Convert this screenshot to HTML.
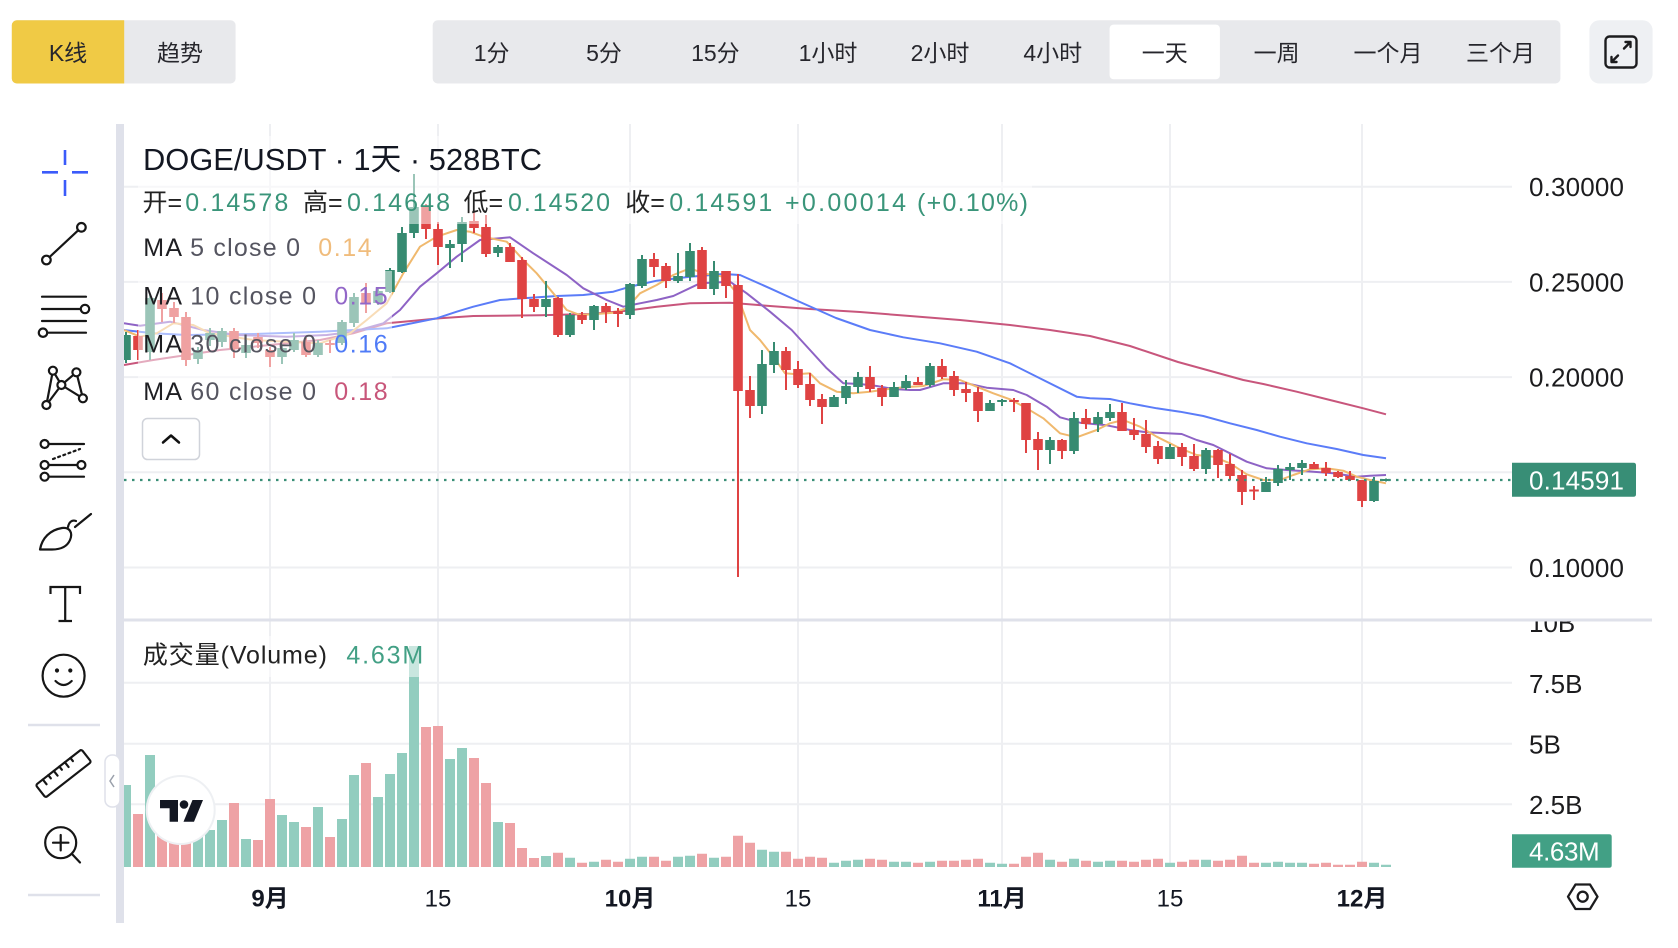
<!DOCTYPE html>
<html><head><meta charset="utf-8">
<style>
html,body{margin:0;padding:0;background:#fff;width:1678px;height:948px;overflow:hidden}
svg{display:block}
text{font-family:"Liberation Sans","Noto Sans CJK SC",sans-serif}
</style></head>
<body>
<svg width="1678" height="948" viewBox="0 0 1678 948" xmlns="http://www.w3.org/2000/svg">
<defs>
<clipPath id="pclip"><rect x="124" y="124" width="1388" height="494"/></clipPath>
<clipPath id="vclipP"><rect x="124" y="622" width="1388" height="246"/></clipPath>
<clipPath id="tclip"><rect x="1512" y="621.5" width="166" height="60"/></clipPath>
</defs>
<rect width="1678" height="948" fill="#fff"/>

<!-- top bar -->
<rect x="11.8" y="20.3" width="223.8" height="63.2" rx="5" fill="#e8e9ec"/>
<path d="M16.8,20.3H124.2V83.5H16.8A5,5 0 0 1 11.8,78.5V25.3A5,5 0 0 1 16.8,20.3Z" fill="#f0ca45"/>
<g font-size="23" fill="#26262c" text-anchor="middle">
<text x="68" y="61">K线</text>
<text x="180" y="61">趋势</text>
</g>
<rect x="432.7" y="20.3" width="1127.7" height="63.2" rx="5" fill="#e8e9ec"/>
<rect x="1109.6" y="24.6" width="110.3" height="54.7" rx="4" fill="#fff"/>
<g font-size="23" fill="#26262c" text-anchor="middle">
<text x="491.6" y="61">1分</text>
<text x="604" y="61">5分</text>
<text x="715.4" y="61">15分</text>
<text x="828" y="61">1小时</text>
<text x="940" y="61">2小时</text>
<text x="1052.8" y="61">4小时</text>
<text x="1164.8" y="61">一天</text>
<text x="1276.6" y="61">一周</text>
<text x="1388" y="61">一个月</text>
<text x="1500.5" y="61">三个月</text>
</g>
<rect x="1589.4" y="20.3" width="63.2" height="63.2" rx="10" fill="#eef0f3"/>
<g fill="none" stroke="#1c1c1e" stroke-width="2.4" stroke-linecap="round" stroke-linejoin="round">
<rect x="1605.5" y="36.5" width="31" height="31" rx="4"/>
<path d="M1624,48.5L1630.5,42 M1625.5,42H1630.5V47"/>
<path d="M1618,55.5L1611.5,62 M1611.5,57V62H1616.5"/>
</g>

<!-- left toolbar -->
<path d="M65,150V165 M65,180V196 M42,172.3H58 M72,172.3H88" stroke="#3b5bfa" stroke-width="2.6" fill="none"/>
<g fill="none" stroke="#161616" stroke-width="2.2" stroke-linecap="round" stroke-linejoin="round">
<circle cx="46.4" cy="260" r="4.3"/><circle cx="81.4" cy="227.3" r="4.3"/>
<line x1="49.6" y1="257" x2="78.2" y2="230.3"/>
<path d="M42,296.7H86 M42,309H80.5 M42,321H86 M47.5,332.7H86"/>
<circle cx="85" cy="309" r="4.2"/><circle cx="43" cy="332.7" r="4.2"/>
<path d="M46.4,405L52.9,370.7L61.4,385L76.4,372.3L82.9,398.3 M46.4,405L61.4,385L82.9,398.3"/>
<circle cx="46.4" cy="405" r="4" fill="#fff"/><circle cx="52.9" cy="370.7" r="4" fill="#fff"/><circle cx="61.4" cy="385" r="4" fill="#fff"/><circle cx="76.4" cy="372.3" r="4" fill="#fff"/><circle cx="82.9" cy="398.3" r="4" fill="#fff"/>
<path d="M49,444H84 M49,465H77 M49,476.7H84"/>
<path d="M53,459L80,449" stroke-dasharray="2,3.5"/>
<circle cx="44.6" cy="444" r="4"/><circle cx="44.6" cy="465" r="4"/><circle cx="81.4" cy="465" r="4"/><circle cx="44.6" cy="476.7" r="4"/>
<path d="M40,549.5C42,538 50,530 62,528C70,527 73,533 70,540C67,547 60,549.5 52,549.5Z"/>
<path d="M68,527C69,522 72,519.5 76,521 M75,527L91,514"/>
<path d="M50.5,594V587H80V594 M65.2,587V621 M58.5,621H72" stroke-linecap="butt" stroke-linejoin="miter"/>
<circle cx="63.6" cy="675.7" r="21"/>
<path d="M55.5,681Q63.6,689 71.7,681"/>
<g transform="translate(63.5,773.5) rotate(-38)">
<rect x="-29" y="-8" width="58" height="16" rx="2"/>
<path d="M-20,-8v6 M-13,-8v4 M-6,-8v6 M1,-8v4 M8,-8v6 M15,-8v4"/>
</g>
<circle cx="60.7" cy="842.7" r="15.5"/>
<path d="M72,854L80,862.5 M53,842.7H68.4 M60.7,835V850.4"/>
</g>
<circle cx="57" cy="670.5" r="2.1" fill="#161616"/><circle cx="70.3" cy="670.5" r="2.1" fill="#161616"/>
<path d="M28,725H100 M28,895H100" stroke="#dfe1ea" stroke-width="2.5"/>

<!-- pane strip -->
<rect x="116" y="124" width="8" height="799" fill="#dfe1ea"/>

<!-- grid -->
<g stroke="#eeeff2" stroke-width="2">
<path d="M270,124V867 M438,124V867 M630,124V867 M798,124V867 M1002,124V867 M1170,124V867 M1362,124V867"/>
<path d="M124,186.7H1512 M124,281.9H1512 M124,377.1H1512 M124,472.3H1512 M124,567.5H1512"/>
<path d="M124,682.7H1512 M124,743.7H1512 M124,804.3H1512"/>
</g>

<!-- volume -->
<g clip-path="url(#vclipP)">
<path fill="#92cdbf" d="M121,785h10V867h-10zM145,755h10V867h-10zM193,833h10V867h-10zM205,830h10V867h-10zM217,820h10V867h-10zM241,839h10V867h-10zM277,815h10V867h-10zM289,822h10V867h-10zM313,807h10V867h-10zM337,819h10V867h-10zM349,775h10V867h-10zM373,797h10V867h-10zM385,774h10V867h-10zM397,753h10V867h-10zM409,646h10V867h-10zM445,759h10V867h-10zM457,748h10V867h-10zM493,822h10V867h-10zM541,856h10V867h-10zM565,857.7h10V867h-10zM589,861.7h10V867h-10zM625,858.7h10V867h-10zM637,856.7h10V867h-10zM673,856.7h10V867h-10zM685,855.7h10V867h-10zM709,857.7h10V867h-10zM757,849.7h10V867h-10zM769,851.7h10V867h-10zM829,862.7h10V867h-10zM841,860.7h10V867h-10zM853,859.7h10V867h-10zM889,861.7h10V867h-10zM901,861.7h10V867h-10zM925,861.7h10V867h-10zM985,862.7h10V867h-10zM997,863.7h10V867h-10zM1045,859.7h10V867h-10zM1069,858.7h10V867h-10zM1093,861.7h10V867h-10zM1105,860.7h10V867h-10zM1165,862.7h10V867h-10zM1201,859.7h10V867h-10zM1261,862.7h10V867h-10zM1273,861.7h10V867h-10zM1285,862.7h10V867h-10zM1297,862.7h10V867h-10zM1369,862.7h10V867h-10zM1381,864.7h10V867h-10z"/>
<path fill="#eea2a5" d="M133,814h10V867h-10zM157,830h10V867h-10zM169,835h10V867h-10zM181,838h10V867h-10zM229,803h10V867h-10zM253,840h10V867h-10zM265,799h10V867h-10zM301,827h10V867h-10zM325,837h10V867h-10zM361,763h10V867h-10zM421,727h10V867h-10zM433,726h10V867h-10zM469,758h10V867h-10zM481,783h10V867h-10zM505,823h10V867h-10zM517,848h10V867h-10zM529,858h10V867h-10zM553,852.7h10V867h-10zM577,862.7h10V867h-10zM601,859.7h10V867h-10zM613,861.7h10V867h-10zM649,856.7h10V867h-10zM661,860.7h10V867h-10zM697,853.7h10V867h-10zM721,856.7h10V867h-10zM733,835.7h10V867h-10zM745,842.7h10V867h-10zM781,851.7h10V867h-10zM793,858.7h10V867h-10zM805,856.7h10V867h-10zM817,857.7h10V867h-10zM865,858.7h10V867h-10zM877,859.7h10V867h-10zM913,862.7h10V867h-10zM937,860.7h10V867h-10zM949,860.7h10V867h-10zM961,859.7h10V867h-10zM973,858.7h10V867h-10zM1009,863.7h10V867h-10zM1021,856.7h10V867h-10zM1033,852.7h10V867h-10zM1057,861.7h10V867h-10zM1081,860.7h10V867h-10zM1117,860.7h10V867h-10zM1129,861.7h10V867h-10zM1141,859.7h10V867h-10zM1153,858.7h10V867h-10zM1177,861.7h10V867h-10zM1189,859.7h10V867h-10zM1213,860.7h10V867h-10zM1225,859.7h10V867h-10zM1237,855.7h10V867h-10zM1249,862.7h10V867h-10zM1309,863.7h10V867h-10zM1321,862.7h10V867h-10zM1333,864.7h10V867h-10zM1345,864.7h10V867h-10zM1357,861.7h10V867h-10z"/>
</g>

<!-- price pane -->
<g clip-path="url(#pclip)">
<g fill="none" stroke-width="2" stroke-linejoin="round">
<polyline stroke="#c8567c" points="124,365 153.3,360 186.7,355 220,350 253.3,346.7 286.7,343.3 320,340 353.3,333.3 386.7,323.3 403.3,321.7 440,318.3 473.3,316 540,315.3 590,314 626.7,310.7 656.7,306.7 690,303.3 730,302.7 770,306 810,309 860,312 910,316 960,320 1010,325 1050,330 1090,336 1130,346 1178,362 1243.3,380 1263.3,384 1296.7,391.7 1330,400 1363.3,408.3 1386,414.3"/>
<polyline stroke="#5b7cf8" points="124,330 153.3,333.3 186.7,335 253.3,334 320,331.7 386.7,328.3 403.3,325 436.7,318.3 456.7,311.7 473.3,306.7 500,300 523.3,298.3 556.7,296 583.3,295 613.3,291.7 630,286.7 656.7,280.7 690,276.7 723.3,274 740,275 770,288.3 800,302 836,318 870,330 903.3,337.3 940,343.3 976.7,351.7 1010,363.3 1043.3,380 1076.7,396.7 1090,398.3 1110,399 1130,403.3 1156.7,408.3 1180,411.7 1203.3,416 1230,423.3 1256.7,430 1280,436.7 1306.7,443.3 1336.7,449 1363.3,455 1386,458.3"/>
<polyline stroke="#8e63c5" points="124,323.3 140,325.7 170,321.7 203.3,330 236.7,335 286.7,336.7 326.7,335 353.3,331.7 383.3,323.3 400,310 420,286.7 436.7,273.3 456.7,256.7 480,240 510,237.3 533.3,253.3 566.7,275 583.3,288.3 606.7,300 623.3,306.7 640,303.3 656.7,300 673.3,296 700,283.3 730,281.7 746.7,293.3 770,311.7 791.7,330 810,350 826.7,368.3 843.3,383.3 860,384 876.7,386 893.3,389 910,390 920,390 943.3,383.3 966.7,383.3 986.7,387.7 1013.3,390 1026.7,395 1046.7,406.7 1060,417.3 1080,422.7 1106.7,425.3 1130,430 1146.7,432.3 1181.7,434 1196.7,440 1213.3,445 1230,453.3 1246.7,461.7 1266.7,468.3 1286.7,470 1313.3,471.7 1333.3,473.3 1356.7,476.7 1370,475.7 1386,475"/>
<polyline stroke="#f0b96e" points="124,330 140,336.7 156.7,333.3 173.3,323.3 193.3,325 210,333.3 253.3,340 286.7,341.7 320,343.3 350,333.3 366.7,320 386.7,303.3 403.3,273.3 420,246.7 436.7,236.7 456.7,230 470,231.7 483.3,236.7 506.7,241.7 523.3,260 536.7,273.3 553.3,293.3 566.7,310 580,315 596.7,314 613.3,312.7 626.7,308.3 640,293.3 656.7,285 673.3,275 690,268.3 703.3,273.3 723.3,276.7 736.7,293.3 750,330 760,340 773.3,356.7 785,373.3 796.7,374.3 810,373.3 820,383.3 836.7,391.7 853.3,393.3 870,391.7 886.7,389.3 903.3,387.3 923.3,386 943.3,379.3 960,380 976.7,386.7 993.3,393.3 1010,399.3 1026.7,408.3 1043.3,418.3 1060,433.3 1076.7,437.3 1096.7,430 1110,423.3 1123.3,420 1140,426.7 1156.7,436.7 1180,448.3 1196.7,455 1213.3,456.7 1230,463.3 1246.7,474.3 1263.3,480 1280,480 1293.3,475 1310,469.3 1326.7,468.3 1343.3,470.7 1356.7,476.7 1370,480 1386,483.3"/>
</g>
<path fill="#378b71" d="M125,332h2V363h-2zM121.2,335h9.6V360h-9.6zM149,295h2V360h-2zM145.2,298h9.6V352h-9.6zM197,347h2V364h-2zM193.2,350h9.6V359h-9.6zM209,328h2V346h-2zM205.2,333h9.6V340h-9.6zM221,328h2V347h-2zM217.2,331h9.6V342h-9.6zM245,340h2V358h-2zM241.2,345h9.6V353h-9.6zM281,344h2V364h-2zM277.2,348h9.6V357h-9.6zM293,333h2V352h-2zM289.2,340h9.6V350h-9.6zM317,340h2V357h-2zM313.2,343h9.6V355h-9.6zM341,320h2V345h-2zM337.2,322h9.6V343h-9.6zM353,293h2V327h-2zM349.2,297h9.6V323h-9.6zM377,288h2V305h-2zM373.2,291h9.6V303h-9.6zM389,268h2V293h-2zM385.2,270h9.6V292h-9.6zM401,227h2V273h-2zM397.2,233h9.6V272h-9.6zM413,174h2V238h-2zM409.2,207h9.6V233h-9.6zM449,240h2V268h-2zM445.2,244h9.6V248h-9.6zM461,217h2V262h-2zM457.2,222h9.6V244h-9.6zM497,245h2V257h-2zM493.2,247h9.6V253h-9.6zM545,281h2V317h-2zM541.2,299h9.6V307h-9.6zM569,313h2V337h-2zM565.2,315h9.6V335h-9.6zM593,305h2V330h-2zM589.2,306h9.6V320h-9.6zM629,283h2V319h-2zM625.2,284h9.6V315h-9.6zM641,255h2V288h-2zM637.2,259h9.6V286h-9.6zM677,253h2V283h-2zM673.2,276h9.6V281h-9.6zM689,243h2V281h-2zM685.2,251h9.6V277h-9.6zM713,261h2V295h-2zM709.2,271h9.6V289h-9.6zM761,350h2V414h-2zM757.2,364h9.6V406h-9.6zM773,342h2V373h-2zM769.2,351h9.6V365h-9.6zM833,395h2V407h-2zM829.2,397h9.6V407h-9.6zM845,380h2V404h-2zM841.2,386h9.6V398h-9.6zM857,372h2V393h-2zM853.2,377h9.6V387h-9.6zM893,382h2V397h-2zM889.2,387h9.6V397h-9.6zM905,375h2V390h-2zM901.2,381h9.6V388h-9.6zM929,363h2V387h-2zM925.2,366h9.6V385h-9.6zM989,400h2V411h-2zM985.2,403h9.6V411h-9.6zM1001,399h2V406h-2zM997.2,400h9.6V402h-9.6zM1049,437h2V464h-2zM1045.2,440h9.6V450h-9.6zM1073,412h2V454h-2zM1069.2,418h9.6V451h-9.6zM1097,412h2V432h-2zM1093.2,417h9.6V424h-9.6zM1109,404h2V421h-2zM1105.2,412h9.6V418h-9.6zM1169,444h2V459h-2zM1165.2,447h9.6V459h-9.6zM1205,448h2V474h-2zM1201.2,450h9.6V469h-9.6zM1265,477h2V492h-2zM1261.2,482h9.6V492h-9.6zM1277,465h2V486h-2zM1273.2,469h9.6V483h-9.6zM1289,463h2V480h-2zM1285.2,467h9.6V470h-9.6zM1301,460h2V475h-2zM1297.2,463h9.6V468h-9.6zM1373,477h2V502h-2zM1369.2,481h9.6V501h-9.6zM1385,478.5h2V481.5h-2zM1381.2,479h9.6V481h-9.6z"/>
<path fill="#df4343" d="M137,330h2V360h-2zM133.2,336h9.6V350h-9.6zM161,293h2V322h-2zM157.2,300h9.6V309h-9.6zM173,302h2V323h-2zM169.2,308h9.6V317h-9.6zM185,312h2V366h-2zM181.2,317h9.6V360h-9.6zM233,328h2V358h-2zM229.2,331h9.6V349h-9.6zM257,333h2V348h-2zM253.2,337h9.6V343h-9.6zM269,347h2V367h-2zM265.2,350h9.6V357h-9.6zM305,338h2V357h-2zM301.2,342h9.6V355h-9.6zM329,340h2V353h-2zM325.2,343h9.6V345h-9.6zM365,283h2V313h-2zM361.2,293h9.6V303h-9.6zM425,204h2V239h-2zM421.2,207h9.6V229h-9.6zM437,222h2V265h-2zM433.2,229h9.6V247h-9.6zM473,212h2V233h-2zM469.2,221h9.6V228h-9.6zM485,215h2V257h-2zM481.2,227h9.6V254h-9.6zM509,243h2V262h-2zM505.2,247h9.6V262h-9.6zM521,257h2V318h-2zM517.2,260h9.6V299h-9.6zM533,294h2V312h-2zM529.2,299h9.6V307h-9.6zM557,297h2V337h-2zM553.2,298h9.6V335h-9.6zM581,312h2V324h-2zM577.2,315h9.6V320h-9.6zM605,303h2V323h-2zM601.2,306h9.6V312h-9.6zM617,308h2V327h-2zM613.2,311h9.6V314h-9.6zM653,253h2V277h-2zM649.2,259h9.6V267h-9.6zM665,263h2V288h-2zM661.2,266h9.6V281h-9.6zM701,247h2V289h-2zM697.2,250h9.6V289h-9.6zM725,271h2V298h-2zM721.2,271h9.6V286h-9.6zM737,274h2V577h-2zM733.2,285h9.6V391h-9.6zM749,376h2V418h-2zM745.2,390h9.6V406h-9.6zM785,347h2V390h-2zM781.2,351h9.6V370h-9.6zM797,361h2V388h-2zM793.2,369h9.6V385h-9.6zM809,373h2V406h-2zM805.2,384h9.6V400h-9.6zM821,394h2V424h-2zM817.2,399h9.6V407h-9.6zM869,366h2V392h-2zM865.2,377h9.6V389h-9.6zM881,385h2V406h-2zM877.2,388h9.6V397h-9.6zM917,377h2V385h-2zM913.2,382h9.6V385h-9.6zM941,359h2V379h-2zM937.2,366h9.6V377h-9.6zM953,371h2V396h-2zM949.2,376h9.6V390h-9.6zM965,382h2V402h-2zM961.2,389h9.6V393h-9.6zM977,387h2V422h-2zM973.2,392h9.6V411h-9.6zM1013,398h2V412h-2zM1009.2,400h9.6V402h-9.6zM1025,403h2V453h-2zM1021.2,403h9.6V440h-9.6zM1037,432h2V470h-2zM1033.2,439h9.6V450h-9.6zM1061,439h2V459h-2zM1057.2,440h9.6V451h-9.6zM1085,409h2V429h-2zM1081.2,418h9.6V424h-9.6zM1121,403h2V431h-2zM1117.2,412h9.6V431h-9.6zM1133,418h2V440h-2zM1129.2,430h9.6V435h-9.6zM1145,420h2V453h-2zM1141.2,434h9.6V447h-9.6zM1157,441h2V464h-2zM1153.2,446h9.6V459h-9.6zM1181,443h2V466h-2zM1177.2,447h9.6V457h-9.6zM1193,444h2V471h-2zM1189.2,456h9.6V469h-9.6zM1217,449h2V478h-2zM1213.2,450h9.6V465h-9.6zM1229,454h2V480h-2zM1225.2,464h9.6V476h-9.6zM1241,470h2V505h-2zM1237.2,475h9.6V492h-9.6zM1253,486h2V500h-2zM1249.2,489.5h9.6V491.5h-9.6zM1313,462h2V469h-2zM1309.2,464h9.6V469h-9.6zM1325,462h2V476h-2zM1321.2,468h9.6V473h-9.6zM1337,471h2V478h-2zM1333.2,472h9.6V477h-9.6zM1349,471h2V481h-2zM1345.2,476h9.6V480h-9.6zM1361,480h2V507h-2zM1357.2,480h9.6V501h-9.6z"/>
</g>
<line x1="124" y1="480" x2="1512" y2="480" stroke="#3a8f77" stroke-width="2.2" stroke-dasharray="2.5,5.5"/>

<!-- legend overlays -->
<g fill="#fff" fill-opacity="0.5">
<rect x="138" y="136" width="410" height="46"/>
<rect x="138" y="182" width="894" height="42"/>
<rect x="138" y="224" width="238" height="47"/>
<rect x="138" y="271" width="254" height="48"/>
<rect x="138" y="319" width="254" height="48"/>
<rect x="138" y="367" width="254" height="48"/>
<rect x="138" y="636" width="290" height="41"/>
</g>

<!-- legend text -->
<text x="143" y="170" font-size="31" fill="#131722" textLength="399" lengthAdjust="spacingAndGlyphs">DOGE/USDT · 1天 · 528BTC</text>
<g font-size="25">
<text x="142.5" y="211" fill="#222">开=</text>
<text x="185.3" y="211" fill="#3a957a" textLength="103">0.14578</text>
<text x="303" y="211" fill="#222">高=</text>
<text x="347" y="211" fill="#3a957a" textLength="103">0.14648</text>
<text x="463.5" y="211" fill="#222">低=</text>
<text x="508" y="211" fill="#3a957a" textLength="102">0.14520</text>
<text x="625.3" y="211" fill="#222">收=</text>
<text x="669.3" y="211" fill="#3a957a" textLength="103">0.14591</text>
<text x="785" y="211" fill="#3a957a" textLength="121">+0.00014</text>
<text x="917" y="211" fill="#3a957a" textLength="111">(+0.10%)</text>

<text x="143.3" y="256" textLength="156.7" fill="#555560"><tspan fill="#1e1e22">MA</tspan> 5 close 0</text>
<text x="318.3" y="256" fill="#f0bc7c" textLength="53.3">0.14</text>
<text x="143.3" y="304.3" textLength="172.7" fill="#555560"><tspan fill="#1e1e22">MA</tspan> 10 close 0</text>
<text x="334.3" y="304.3" fill="#9267c8" textLength="53.3">0.15</text>
<text x="143.3" y="352.3" textLength="172.7" fill="#555560"><tspan fill="#1e1e22">MA</tspan> 30 close 0</text>
<text x="334.3" y="352.3" fill="#4f7bf7" textLength="53.3">0.16</text>
<text x="143.3" y="400" textLength="172.7" fill="#555560"><tspan fill="#1e1e22">MA</tspan> 60 close 0</text>
<text x="334.3" y="400" fill="#c8567a" textLength="53.3">0.18</text>

<text x="142.9" y="663.3" fill="#222" textLength="184">成交量(Volume)</text>
<text x="346.4" y="663.3" fill="#43a085" textLength="76.8">4.63M</text>
</g>
<rect x="142.5" y="418.5" width="57" height="41" rx="5" fill="#fff" stroke="#d0d3da" stroke-width="1.5"/>
<path d="M163,442.5L171,435.5L179,442.5" fill="none" stroke="#111" stroke-width="2.5" stroke-linecap="round" stroke-linejoin="round"/>

<!-- separator -->
<rect x="124" y="618.5" width="1528" height="3" fill="#dfe1ea"/>

<!-- right axis -->
<g font-size="26" fill="#1c1c1e">
<text x="1529" y="196.2" textLength="95">0.30000</text>
<text x="1529" y="291.4" textLength="95">0.25000</text>
<text x="1529" y="386.7" textLength="95">0.20000</text>
<text x="1529" y="577.2" textLength="95">0.10000</text>
<text x="1529" y="632" clip-path="url(#tclip)">10B</text>
<text x="1529" y="692.8">7.5B</text>
<text x="1529" y="753.5">5B</text>
<text x="1529" y="813.8">2.5B</text>
</g>
<path d="M1512,462.7H1633.5Q1636,462.7 1636,465.2V494.2Q1636,496.7 1633.5,496.7H1512Z" fill="#388e76"/>
<text x="1529" y="489.5" font-size="26" fill="#fff" textLength="95">0.14591</text>
<path d="M1512,834.3H1609.2Q1611.7,834.3 1611.7,836.8V865.2Q1611.7,867.7 1609.2,867.7H1512Z" fill="#42a085"/>
<text x="1529" y="860.5" font-size="26" fill="#fff" textLength="70.7">4.63M</text>

<!-- time axis -->
<g font-size="24" fill="#131722" text-anchor="middle">
<text x="270" y="906.5" font-weight="bold">9月</text>
<text x="438" y="906.5">15</text>
<text x="630" y="906.5" font-weight="bold">10月</text>
<text x="798" y="906.5">15</text>
<text x="1002" y="906.5" font-weight="bold">11月</text>
<text x="1170" y="906.5">15</text>
<text x="1362" y="906.5" font-weight="bold">12月</text>
</g>
<g fill="none" stroke="#1c1c1e" stroke-width="2.3" stroke-linejoin="round">
<path d="M1568,896.7L1575.5,884.5H1590L1597.5,896.7L1590,909H1575.5Z"/>
<circle cx="1582.7" cy="896.7" r="5"/>
</g>

<!-- collapse handle -->
<rect x="105" y="755" width="15" height="52" rx="7" fill="#fff" stroke="#dfe1ea" stroke-width="1.5"/>
<path d="M114,775L110,781L114,787" fill="none" stroke="#9aa0ab" stroke-width="1.5"/>

<!-- TV logo -->
<circle cx="180.7" cy="810" r="35" fill="#eef0f3"/>
<circle cx="180.7" cy="810" r="33" fill="#fff"/>
<path d="M160,800H178V821.7H169.6V808.3H160Z" fill="#131722"/>
<circle cx="184" cy="804.5" r="4.3" fill="#131722"/>
<path d="M192.5,800H203L194,821.7H183.5Z" fill="#131722"/>
</svg>
</body></html>
